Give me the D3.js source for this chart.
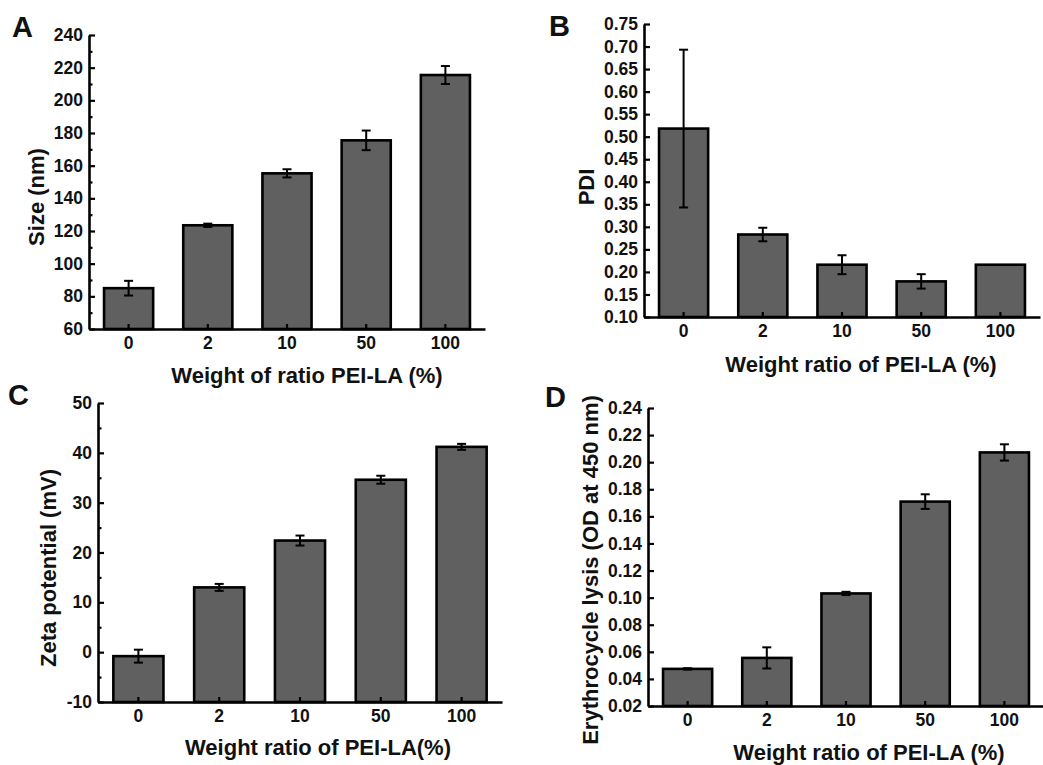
<!DOCTYPE html>
<html>
<head>
<meta charset="utf-8">
<script src="https://cdn.jsdelivr.net/npm/d3@7"></script>
<style>
  body { margin: 0; background: #fff; }
  svg text { font-family: "Liberation Sans", Arial, sans-serif; font-weight: bold; fill: #111; }
</style>
</head>
<body>
<svg id="chart" width="1043" height="765"></svg>
<script>
// categories (weight ratio of PEI-LA, %)
const categories = ['0', '2', '10', '50', '100'];

// A: particle size
const sizeValues = [85, 123.5, 155.3, 175.5, 215.5];
const sizeErrors = [4.5, 1, 2.5, 6, 5.5];
const sizeTicks = [60, 80, 100, 120, 140, 160, 180, 200, 220, 240];
const sizeMinor = [70, 90, 110, 130, 150, 170, 190, 210, 230];

// B: PDI
const pdiValues = [0.518, 0.283, 0.216, 0.179, 0.216];
const pdiErrors = [0.175, 0.015, 0.021, 0.016, 0];
const pdiTicks = [0.10, 0.15, 0.20, 0.25, 0.30, 0.35, 0.40, 0.45, 0.50, 0.55, 0.60, 0.65, 0.70, 0.75];

// C: zeta potential
const zetaValues = [-0.8, 13.0, 22.4, 34.6, 41.2];
const zetaErrors = [1.3, 0.7, 1.0, 0.8, 0.6];
const zetaTicks = [-10, 0, 10, 20, 30, 40, 50];
const zetaMinor = [-5, 5, 15, 25, 35, 45];

// D: erythrocyte lysis
const lysisValues = [0.0474, 0.0555, 0.1031, 0.1709, 0.2072];
const lysisErrors = [0.0005, 0.0078, 0.0012, 0.0054, 0.006];
const lysisTicks = [0.02, 0.04, 0.06, 0.08, 0.10, 0.12, 0.14, 0.16, 0.18, 0.20, 0.22, 0.24];

// plain hyphen for negatives, like the original figure
const intFmt = v => String(Math.round(v));
const decFmt = v => v.toFixed(2);

const panels = [
  { letter: 'A', values: sizeValues, errors: sizeErrors, ticks: sizeTicks, minor: sizeMinor,
    fmt: intFmt, left: 89, right: 485, top: 35, bottom: 329,
    yTitle: 'Size (nm)', yTitleAt: [36, 197],
    xTitle: 'Weight of ratio PEI-LA (%)', xTitleAt: [307, 383], letterAt: [12, 37] },
  { letter: 'B', values: pdiValues, errors: pdiErrors, ticks: pdiTicks, minor: [],
    fmt: decFmt, left: 644, right: 1040, top: 24, bottom: 317,
    yTitle: 'PDI', yTitleAt: [586, 187],
    xTitle: 'Weight ratio of PEI-LA (%)', xTitleAt: [861, 372], letterAt: [549, 36] },
  { letter: 'C', values: zetaValues, errors: zetaErrors, ticks: zetaTicks, minor: zetaMinor,
    fmt: intFmt, left: 98, right: 502, top: 403, bottom: 702,
    yTitle: 'Zeta potential (mV)', yTitleAt: [48, 568],
    xTitle: 'Weight ratio of PEI-LA(%)', xTitleAt: [318, 755], letterAt: [8, 405] },
  { letter: 'D', values: lysisValues, errors: lysisErrors, ticks: lysisTicks, minor: [],
    fmt: decFmt, left: 648, right: 1044, top: 408, bottom: 706,
    yTitle: 'Erythrocycle lysis (OD at 450 nm)', yTitleAt: [590, 570],
    xTitle: 'Weight ratio of PEI-LA (%)', xTitleAt: [869, 760], letterAt: [545, 407] }
];

const svg = d3.select('#chart');

panels.forEach(p => {
  const g = svg.append('g');

  const x = d3.scaleBand()
    .domain(categories)
    .range([p.left, p.right])
    .paddingInner(0.38)
    .paddingOuter(0.19);

  const y = d3.scaleLinear()
    .domain([p.ticks[0], p.ticks[p.ticks.length - 1]])
    .range([p.bottom, p.top]);

  const rows = categories.map((c, i) => ({ c, v: p.values[i], e: p.errors[i] }));

  // bars (drawn from the bottom of the axis)
  g.selectAll('rect.bar')
    .data(rows)
    .enter().append('rect')
    .attr('class', 'bar')
    .attr('x', d => x(d.c))
    .attr('width', x.bandwidth())
    .attr('y', d => y(d.v))
    .attr('height', d => p.bottom - y(d.v))
    .attr('fill', '#606060')
    .attr('stroke', '#000')
    .attr('stroke-width', 2.6);

  // error bars
  const err = g.selectAll('g.err')
    .data(rows.filter(d => d.e > 0))
    .enter().append('g')
    .attr('class', 'err')
    .attr('stroke', '#000')
    .attr('stroke-width', 2);

  err.append('line')
    .attr('x1', d => x(d.c) + x.bandwidth() / 2)
    .attr('x2', d => x(d.c) + x.bandwidth() / 2)
    .attr('y1', d => y(d.v + d.e))
    .attr('y2', d => y(d.v - d.e));

  [1, -1].forEach(s => {
    err.append('line')
      .attr('x1', d => x(d.c) + x.bandwidth() / 2 - 4.5)
      .attr('x2', d => x(d.c) + x.bandwidth() / 2 + 4.5)
      .attr('y1', d => y(d.v + s * d.e))
      .attr('y2', d => y(d.v + s * d.e));
  });

  // y axis, ticks pointing inward
  const yAxis = g.append('g')
    .attr('transform', `translate(${p.left},0)`)
    .call(d3.axisLeft(y).tickValues(p.ticks).tickFormat(p.fmt)
      .tickSize(-6).tickSizeOuter(0).tickPadding(6));

  if (p.minor.length) {
    g.append('g')
      .attr('transform', `translate(${p.left},0)`)
      .call(d3.axisLeft(y).tickValues(p.minor).tickFormat('')
        .tickSize(-3.5).tickSizeOuter(0))
      .select('.domain').remove();
  }

  // x axis, ticks pointing up into bars
  const xAxis = g.append('g')
    .attr('transform', `translate(0,${p.bottom})`)
    .call(d3.axisBottom(x).tickSize(-5).tickSizeOuter(0).tickPadding(8));

  [yAxis, xAxis].forEach(a => {
    a.select('.domain').attr('stroke-width', 2.6).attr('stroke', '#000');
    a.selectAll('.tick text').style('font-size', '17.5px').attr('fill', '#111');
  });
  g.selectAll('.tick line').attr('stroke-width', 2.2).attr('stroke', '#000');

  // y title
  g.append('text')
    .attr('transform', `translate(${p.yTitleAt[0]},${p.yTitleAt[1]}) rotate(-90)`)
    .attr('dy', '0.35em')
    .style('text-anchor', 'middle')
    .style('font-size', '22px')
    .text(p.yTitle);

  // x title
  g.append('text')
    .attr('x', p.xTitleAt[0])
    .attr('y', p.xTitleAt[1])
    .style('text-anchor', 'middle')
    .style('font-size', '22px')
    .text(p.xTitle);

  // panel letter
  g.append('text')
    .attr('x', p.letterAt[0])
    .attr('y', p.letterAt[1])
    .style('font-size', '29px')
    .text(p.letter);
});
</script>
</body>
</html>
